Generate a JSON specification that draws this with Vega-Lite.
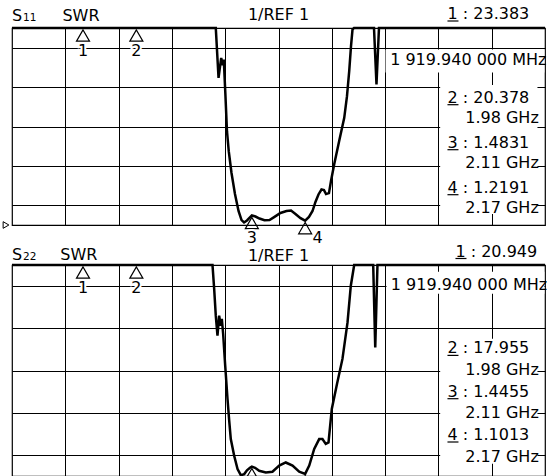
{
  "$schema": "https://vega.github.io/schema/vega-lite/v6.json",
  "background": "white",
  "padding": {"left": 0, "top": 5, "right": 0, "bottom": 0},
  "spacing": 40,
  "bounds": "flush",
  "config": {
    "view": {"stroke": "black", "strokeWidth": 1.2},
    "font": "DejaVu Sans",
    "text": {"font": "DejaVu Sans", "fontSize": 16, "baseline": "alphabetic", "color": "black"}
  },
  "datasets": {
    "s11": [
      {"f": 1840, "swr": 24.5}, {"f": 1919.94, "swr": 23.383}, {"f": 1980, "swr": 20.378},
      {"f": 2069.4, "swr": 12}, {"f": 2072.5, "swr": 8.47}, {"f": 2075.5, "swr": 9.48},
      {"f": 2077.3, "swr": 9.11}, {"f": 2078.4, "swr": 9.4}, {"f": 2080.3, "swr": 7.54},
      {"f": 2082.0, "swr": 5.76}, {"f": 2084.0, "swr": 4.75}, {"f": 2087.1, "swr": 3.64},
      {"f": 2091.0, "swr": 2.57}, {"f": 2095.0, "swr": 1.71}, {"f": 2098.4, "swr": 1.25},
      {"f": 2101.2, "swr": 1.13}, {"f": 2104.5, "swr": 1.23}, {"f": 2110, "swr": 1.4831},
      {"f": 2114.1, "swr": 1.43}, {"f": 2118.6, "swr": 1.33}, {"f": 2124.2, "swr": 1.24},
      {"f": 2129.9, "swr": 1.25}, {"f": 2135.5, "swr": 1.41}, {"f": 2142.2, "swr": 1.61},
      {"f": 2149.0, "swr": 1.71}, {"f": 2154.1, "swr": 1.73}, {"f": 2159.1, "swr": 1.56},
      {"f": 2164.8, "swr": 1.35}, {"f": 2170, "swr": 1.2191}, {"f": 2174.3, "swr": 1.41},
      {"f": 2178.3, "swr": 1.71}, {"f": 2181.6, "swr": 2.17}, {"f": 2185.0, "swr": 2.55},
      {"f": 2188.4, "swr": 2.8}, {"f": 2191.2, "swr": 2.77}, {"f": 2193.5, "swr": 2.57},
      {"f": 2196.8, "swr": 2.62}, {"f": 2199.1, "swr": 3.23}, {"f": 2202.7, "swr": 4.08},
      {"f": 2208.3, "swr": 5.26}, {"f": 2214.0, "swr": 6.44}, {"f": 2217.1, "swr": 7.54},
      {"f": 2219.6, "swr": 8.81}, {"f": 2221.6, "swr": 10.07}, {"f": 2223.3, "swr": 10.92},
      {"f": 2225.0, "swr": 12}, {"f": 2247.5, "swr": 13}, {"f": 2250.3, "swr": 8.13},
      {"f": 2253.1, "swr": 13}, {"f": 2300, "swr": 18}, {"f": 2440, "swr": 24}
    ],
    "s22": [
      {"f": 1840, "swr": 22}, {"f": 1919.94, "swr": 20.949}, {"f": 1980, "swr": 17.955},
      {"f": 2065.7, "swr": 12}, {"f": 2067.6, "swr": 9.86}, {"f": 2069.4, "swr": 8.6},
      {"f": 2071.3, "swr": 7.65}, {"f": 2073.2, "swr": 8.6}, {"f": 2075.0, "swr": 8.12},
      {"f": 2076.2, "swr": 8.45}, {"f": 2077.7, "swr": 7.73}, {"f": 2080.0, "swr": 6.23},
      {"f": 2082.6, "swr": 4.65}, {"f": 2084.5, "swr": 3.62}, {"f": 2086.3, "swr": 2.75},
      {"f": 2090.1, "swr": 1.96}, {"f": 2093.9, "swr": 1.33}, {"f": 2097.6, "swr": 1.04},
      {"f": 2101.4, "swr": 1.09}, {"f": 2104.5, "swr": 1.27}, {"f": 2107.9, "swr": 1.39},
      {"f": 2110, "swr": 1.4455}, {"f": 2113.6, "swr": 1.39}, {"f": 2118.3, "swr": 1.25},
      {"f": 2125.7, "swr": 1.17}, {"f": 2133.2, "swr": 1.2}, {"f": 2140.8, "swr": 1.49},
      {"f": 2148.2, "swr": 1.64}, {"f": 2155.8, "swr": 1.49}, {"f": 2163.3, "swr": 1.2},
      {"f": 2170, "swr": 1.1013}, {"f": 2174.6, "swr": 1.49}, {"f": 2180.2, "swr": 2.28},
      {"f": 2185.8, "swr": 2.75}, {"f": 2189.5, "swr": 2.75}, {"f": 2193.2, "swr": 2.52},
      {"f": 2196.3, "swr": 2.59}, {"f": 2200.0, "swr": 4.18}, {"f": 2205.9, "swr": 5.37},
      {"f": 2212.0, "swr": 6.55}, {"f": 2217.7, "swr": 8.28}, {"f": 2221.4, "swr": 10.02},
      {"f": 2225.2, "swr": 11.05}, {"f": 2226.5, "swr": 12}, {"f": 2246.6, "swr": 13},
      {"f": 2248.9, "swr": 7.09}, {"f": 2251.4, "swr": 13}, {"f": 2300, "swr": 16},
      {"f": 2440, "swr": 21}
    ],
    "m11": [
      {"m": 1, "f": 1919.94, "swr": 23.383, "val": "23.383", "freq": "1 919.940 000 MHz"},
      {"m": 2, "f": 1980, "swr": 20.378, "val": "20.378", "freq": "1.98 GHz"},
      {"m": 3, "f": 2110, "swr": 1.4831, "val": "1.4831", "freq": "2.11 GHz"},
      {"m": 4, "f": 2170, "swr": 1.2191, "val": "1.2191", "freq": "2.17 GHz"}
    ],
    "m22": [
      {"m": 1, "f": 1919.94, "swr": 20.949, "val": "20.949", "freq": "1 919.940 000 MHz"},
      {"m": 2, "f": 1980, "swr": 17.955, "val": "17.955", "freq": "1.98 GHz"},
      {"m": 3, "f": 2110, "swr": 1.4455, "val": "1.4455", "freq": "2.11 GHz"},
      {"m": 4, "f": 2170, "swr": 1.1013, "val": "1.1013", "freq": "2.17 GHz"}
    ]
  },
  "vconcat": [
    {
      "width": 533,
      "height": 197,
      "resolve": {"scale": {"y": "independent"}},
      "layer": [
        {
          "layer": [
            {
              "data": {"name": "s11"},
              "mark": {"type": "line", "color": "black", "strokeWidth": 2.5},
              "encoding": {
                "x": {"field": "f", "type": "quantitative", "scale": {"domain": [1840, 2440], "nice": false, "zero": false},
                  "axis": {"values": [1900, 1960, 2020, 2080, 2140, 2200, 2260, 2320, 2380], "grid": true, "labels": false, "ticks": false, "domain": false, "title": null, "gridColor": "black", "gridWidth": 1, "gridOpacity": 1}},
                "y": {"field": "swr", "type": "quantitative", "scale": {"domain": [1, 11], "nice": false, "zero": false, "clamp": true},
                  "axis": {"values": [2, 3, 4, 5, 6, 7, 8, 9, 10], "grid": true, "labels": false, "ticks": false, "domain": false, "title": null, "gridColor": "black", "gridWidth": 1, "gridOpacity": 1}}
              }
            },
            {
              "data": {"values": [{}]},
              "mark": {"type": "rect", "color": "white"},
              "encoding": {"x": {"datum": 2260.5}, "x2": {"datum": 2439.3}, "y": {"datum": 9.91}, "y2": {"datum": 8.74}}
            },
            {
              "data": {"values": [{}]},
              "mark": {"type": "rect", "color": "white"},
              "encoding": {"x": {"datum": 2322}, "x2": {"datum": 2431.5}, "y": {"datum": 8.11}, "y2": {"datum": 1.56}}
            },
            {
              "data": {"name": "m11"},
              "mark": {"type": "point", "shape": "triangle-up", "filled": false, "color": "black", "strokeWidth": 1.2, "size": 169, "opacity": 1, "yOffset": 7.5},
              "encoding": {"x": {"field": "f", "type": "quantitative"}, "y": {"field": "swr", "type": "quantitative"}}
            },
            {
              "data": {"name": "m11"},
              "transform": [{"filter": "datum.m <= 3"}],
              "mark": {"type": "text", "align": "center", "dy": 27.5, "fill": "white", "stroke": "white", "strokeWidth": 4},
              "encoding": {"x": {"field": "f", "type": "quantitative"}, "y": {"field": "swr", "type": "quantitative"}, "text": {"field": "m", "type": "nominal"}}
            },
            {
              "data": {"name": "m11"},
              "transform": [{"filter": "datum.m <= 3"}],
              "mark": {"type": "text", "align": "center", "dy": 27.5},
              "encoding": {"x": {"field": "f", "type": "quantitative"}, "y": {"field": "swr", "type": "quantitative"}, "text": {"field": "m", "type": "nominal"}}
            },
            {
              "data": {"name": "m11"},
              "transform": [{"filter": "datum.m == 4"}],
              "mark": {"type": "text", "align": "center", "dx": 12.5, "dy": 22},
              "encoding": {"x": {"field": "f", "type": "quantitative"}, "y": {"field": "swr", "type": "quantitative"}, "text": {"field": "m", "type": "nominal"}}
            },
            {
              "data": {"name": "m11"},
              "transform": [{"filter": "datum.m == 1"}],
              "mark": {"type": "text", "align": "right"},
              "encoding": {"x": {"datum": 2441.7}, "y": {"datum": 9.12}, "text": {"field": "freq"}}
            },
            {
              "data": {"name": "m11"},
              "transform": [{"filter": "datum.m == 1"}, {"calculate": "datum.m + ' : ' + datum.val", "as": "label"}],
              "mark": {"type": "text", "align": "right", "dy": -8.7},
              "encoding": {"x": {"datum": 2422.3}, "y": {"datum": 11}, "text": {"field": "label"}}
            },
            {
              "data": {"values": [{}]},
              "mark": {"type": "rule", "color": "black", "strokeWidth": 1.2, "yOffset": -7},
              "encoding": {"x": {"datum": 2330.2}, "x2": {"datum": 2342.6}, "y": {"datum": 11}}
            },
            {
              "data": {"values": [{}]},
              "mark": {"type": "text", "align": "left", "dy": -7, "text": "S"},
              "encoding": {"x": {"datum": 1840}, "y": {"datum": 11}}
            },
            {
              "data": {"values": [{}]},
              "mark": {"type": "text", "align": "left", "dx": 11, "dy": -7, "fontSize": 10.5, "text": "11"},
              "encoding": {"x": {"datum": 1840}, "y": {"datum": 11}}
            },
            {
              "data": {"values": [{}]},
              "mark": {"type": "text", "align": "left", "dy": -7, "text": "SWR"},
              "encoding": {"x": {"datum": 1896.8}, "y": {"datum": 11}}
            },
            {
              "data": {"values": [{}]},
              "mark": {"type": "text", "align": "center", "dy": -8, "text": "1/REF 1"},
              "encoding": {"x": {"datum": 2140}, "y": {"datum": 11}}
            },
            {
              "data": {"values": [{}]},
              "mark": {"type": "point", "shape": "triangle-right", "filled": false, "color": "black", "strokeWidth": 1, "size": 44, "opacity": 1, "xOffset": -6},
              "encoding": {"x": {"datum": 1840}, "y": {"datum": 1}}
            }
          ]
        },
        {
          "data": {"name": "m11"},
          "transform": [{"filter": "datum.m >= 2"}, {"calculate": "datum.m + ' : ' + datum.val", "as": "label"}],
          "layer": [
            {
              "mark": {"type": "text", "align": "right"},
              "encoding": {"x": {"datum": 2422.3}, "y": {"field": "m", "type": "quantitative", "scale": {"domain": [2, 4], "range": [74.7, 164.7]}, "axis": null}, "text": {"field": "label"}}
            },
            {
              "mark": {"type": "text", "align": "right", "dy": 20.5},
              "encoding": {"x": {"datum": 2433}, "y": {"field": "m", "type": "quantitative", "axis": null}, "text": {"field": "freq"}}
            },
            {
              "mark": {"type": "rule", "color": "black", "strokeWidth": 1.2, "yOffset": 2},
              "encoding": {"x": {"datum": 2330.2}, "x2": {"datum": 2342.6}, "y": {"field": "m", "type": "quantitative", "axis": null}}
            }
          ]
        }
      ]
    },
    {
      "width": 533,
      "height": 211,
      "resolve": {"scale": {"y": "independent"}},
      "layer": [
        {
          "layer": [
            {
              "data": {"name": "s22"},
              "mark": {"type": "line", "color": "black", "strokeWidth": 2.5},
              "encoding": {
                "x": {"field": "f", "type": "quantitative", "scale": {"domain": [1840, 2440], "nice": false, "zero": false},
                  "axis": {"values": [1900, 1960, 2020, 2080, 2140, 2200, 2260, 2320, 2380], "grid": true, "labels": false, "ticks": false, "domain": false, "title": null, "gridColor": "black", "gridWidth": 1, "gridOpacity": 1}},
                "y": {"field": "swr", "type": "quantitative", "scale": {"domain": [1, 11], "nice": false, "zero": false, "clamp": true},
                  "axis": {"values": [2, 3, 4, 5, 6, 7, 8, 9, 10], "grid": true, "labels": false, "ticks": false, "domain": false, "title": null, "gridColor": "black", "gridWidth": 1, "gridOpacity": 1}}
              }
            },
            {
              "data": {"values": [{}]},
              "mark": {"type": "rect", "color": "white"},
              "encoding": {"x": {"datum": 2261.6}, "x2": {"datum": 2439.3}, "y": {"datum": 10.68}, "y2": {"datum": 9.64}}
            },
            {
              "data": {"values": [{}]},
              "mark": {"type": "rect", "color": "white"},
              "encoding": {"x": {"datum": 2322}, "x2": {"datum": 2431.5}, "y": {"datum": 7.51}, "y2": {"datum": 1.58}}
            },
            {
              "data": {"name": "m22"},
              "mark": {"type": "point", "shape": "triangle-up", "filled": false, "color": "black", "strokeWidth": 1.2, "size": 169, "opacity": 1, "yOffset": 7.5, "clip": true},
              "encoding": {"x": {"field": "f", "type": "quantitative"}, "y": {"field": "swr", "type": "quantitative"}}
            },
            {
              "data": {"name": "m22"},
              "transform": [{"filter": "datum.m <= 2"}],
              "mark": {"type": "text", "align": "center", "dy": 27.5, "fill": "white", "stroke": "white", "strokeWidth": 4},
              "encoding": {"x": {"field": "f", "type": "quantitative"}, "y": {"field": "swr", "type": "quantitative"}, "text": {"field": "m", "type": "nominal"}}
            },
            {
              "data": {"name": "m22"},
              "transform": [{"filter": "datum.m <= 2"}],
              "mark": {"type": "text", "align": "center", "dy": 27.5},
              "encoding": {"x": {"field": "f", "type": "quantitative"}, "y": {"field": "swr", "type": "quantitative"}, "text": {"field": "m", "type": "nominal"}}
            },
            {
              "data": {"name": "m22"},
              "transform": [{"filter": "datum.m == 1"}],
              "mark": {"type": "text", "align": "right"},
              "encoding": {"x": {"datum": 2442.5}, "y": {"datum": 9.83}, "text": {"field": "freq"}}
            },
            {
              "data": {"name": "m22"},
              "transform": [{"filter": "datum.m == 1"}, {"calculate": "datum.m + ' : ' + datum.val", "as": "label"}],
              "mark": {"type": "text", "align": "right", "dy": -8.3},
              "encoding": {"x": {"datum": 2431.2}, "y": {"datum": 11}, "text": {"field": "label"}}
            },
            {
              "data": {"values": [{}]},
              "mark": {"type": "rule", "color": "black", "strokeWidth": 1.2, "yOffset": -6.5},
              "encoding": {"x": {"datum": 2339.2}, "x2": {"datum": 2351.6}, "y": {"datum": 11}}
            },
            {
              "data": {"values": [{}]},
              "mark": {"type": "text", "align": "left", "dy": -5.3, "text": "S"},
              "encoding": {"x": {"datum": 1840}, "y": {"datum": 11}}
            },
            {
              "data": {"values": [{}]},
              "mark": {"type": "text", "align": "left", "dx": 11, "dy": -5.3, "fontSize": 10.5, "text": "22"},
              "encoding": {"x": {"datum": 1840}, "y": {"datum": 11}}
            },
            {
              "data": {"values": [{}]},
              "mark": {"type": "text", "align": "left", "dy": -5.3, "text": "SWR"},
              "encoding": {"x": {"datum": 1894.3}, "y": {"datum": 11}}
            },
            {
              "data": {"values": [{}]},
              "mark": {"type": "text", "align": "center", "dy": -4, "text": "1/REF 1"},
              "encoding": {"x": {"datum": 2140}, "y": {"datum": 11}}
            }
          ]
        },
        {
          "data": {"name": "m22"},
          "transform": [{"filter": "datum.m >= 2"}, {"calculate": "datum.m + ' : ' + datum.val", "as": "label"}],
          "layer": [
            {
              "mark": {"type": "text", "align": "right"},
              "encoding": {"x": {"datum": 2422.3}, "y": {"field": "m", "type": "quantitative", "scale": {"domain": [2, 4], "range": [88.4, 175]}, "axis": null}, "text": {"field": "label"}}
            },
            {
              "mark": {"type": "text", "align": "right", "dy": 21.6},
              "encoding": {"x": {"datum": 2433}, "y": {"field": "m", "type": "quantitative", "axis": null}, "text": {"field": "freq"}}
            },
            {
              "mark": {"type": "rule", "color": "black", "strokeWidth": 1.2, "yOffset": 2},
              "encoding": {"x": {"datum": 2330.2}, "x2": {"datum": 2342.6}, "y": {"field": "m", "type": "quantitative", "axis": null}}
            }
          ]
        }
      ]
    }
  ]
}
